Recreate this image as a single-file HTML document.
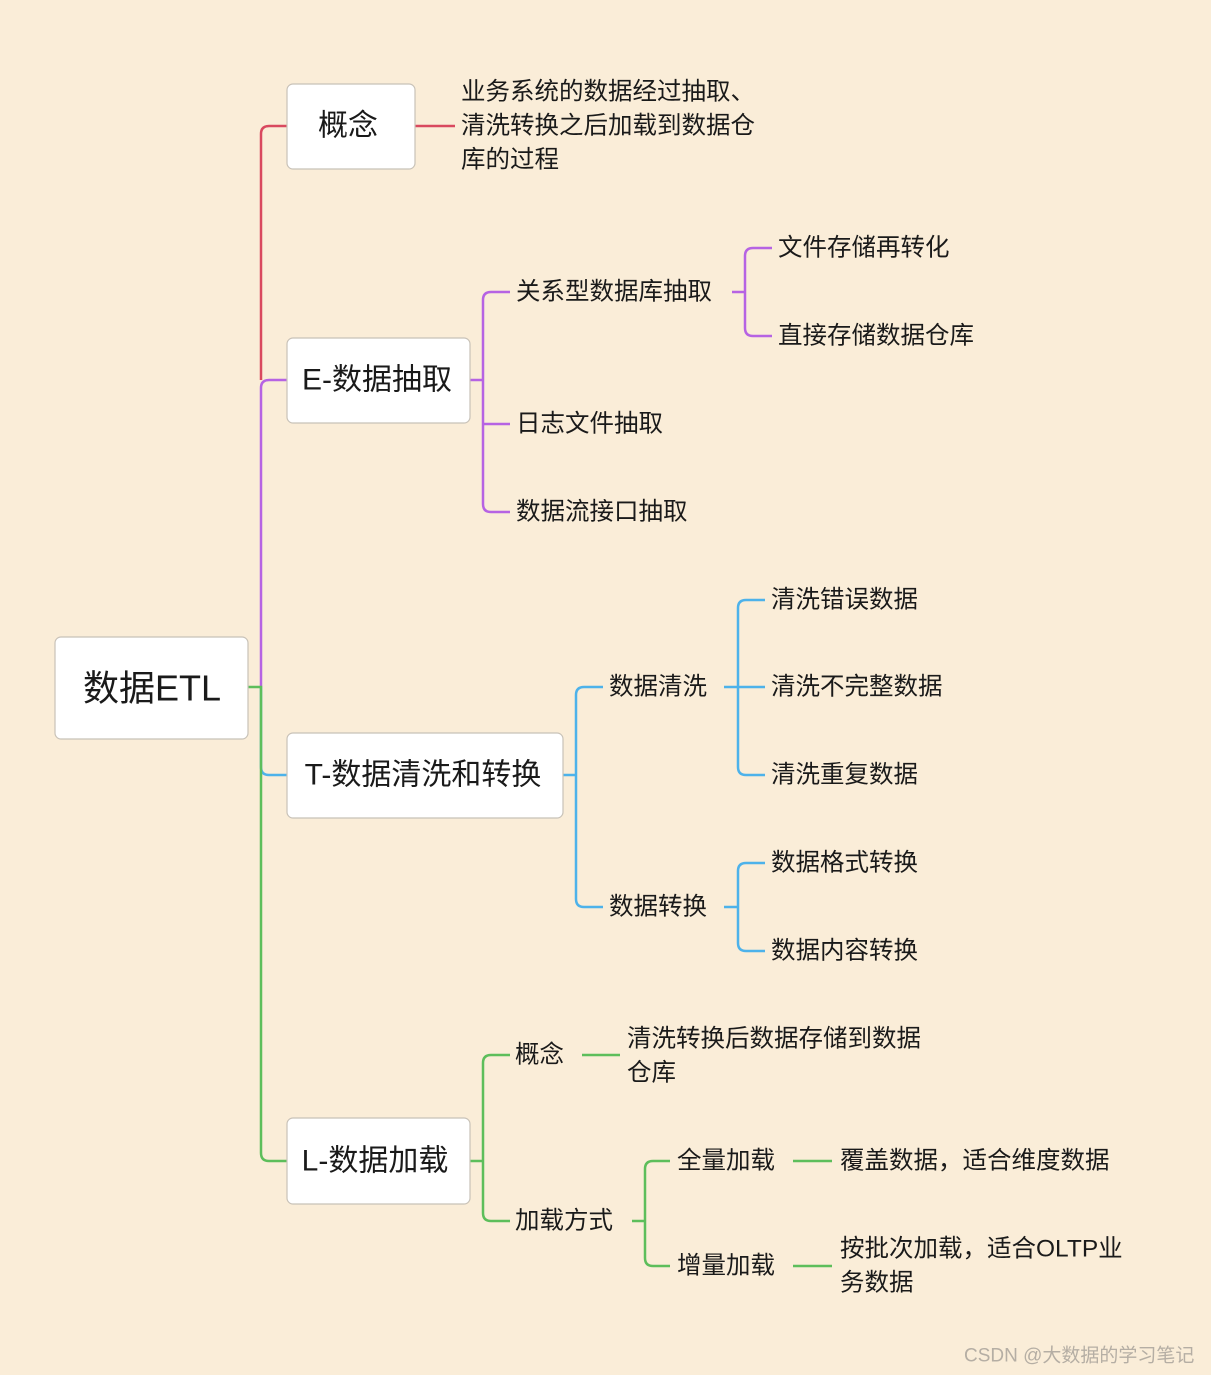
<!DOCTYPE html>
<html><head><meta charset="utf-8"><style>
html,body{margin:0;padding:0;background:#FAEDD8;}
svg{display:block;}
text{font-family:"Liberation Sans","Noto Sans CJK SC",sans-serif;fill:#1a1a1a;dominant-baseline:central;}
.b{fill:#fff;stroke:#c8c2b8;stroke-width:1.2;}
.r{stroke:#D9495F;} .p{stroke:#B663E3;} .u{stroke:#4DB2EA;} .g{stroke:#5DBE5B;}
path{fill:none;stroke-width:2.5;}
.t{font-size:24.5px;}
</style></head><body>
<svg width="1211" height="1375" viewBox="0 0 1211 1375">
<rect width="1211" height="1375" fill="#FAEDD8"/>
<path class="r" d="M287 126 H269 Q261 126 261 134 V380"/>
<path class="p" d="M287 380 H269 Q261 380 261 388 V687"/>
<path class="u" d="M287 775 H269 Q261 775 261 767 V687"/>
<path class="g" d="M248 687 H261 V1153 Q261 1161 269 1161 H287"/>
<path class="r" d="M415 126 H455"/>
<path class="p" d="M470 380 H483 M510 292 H491 Q483 292 483 300 V504 Q483 512 491 512 H510 M483 424 H510"/>
<path class="p" d="M732 292 H745 M772 248 H753 Q745 248 745 256 V328 Q745 336 753 336 H772"/>
<path class="u" d="M563 775 H576 M603 687 H584 Q576 687 576 695 V899 Q576 907 584 907 H603"/>
<path class="u" d="M724 687 H765 M765 600 H746 Q738 600 738 608 V767 Q738 775 746 775 H765"/>
<path class="u" d="M724 907 H738 M765 863 H746 Q738 863 738 871 V943 Q738 951 746 951 H765"/>
<path class="g" d="M470 1161 H483 M510 1055 H491 Q483 1055 483 1063 V1213 Q483 1221 491 1221 H510"/>
<path class="g" d="M582 1055 H620"/>
<path class="g" d="M632 1221 H645 M670 1161 H653 Q645 1161 645 1169 V1258 Q645 1266 653 1266 H670"/>
<path class="g" d="M793 1161 H832 M793 1266 H832"/>
<rect class="b" x="55" y="637" width="193" height="102" rx="6"/>
<text x="152" y="688" font-size="36" text-anchor="middle">数据ETL</text>
<rect class="b" x="287" y="84" width="128" height="85" rx="6"/>
<text x="348" y="126" font-size="30" text-anchor="middle">概念</text>
<rect class="b" x="287" y="338" width="183" height="85" rx="6"/>
<text x="377" y="380" font-size="30" text-anchor="middle">E-数据抽取</text>
<rect class="b" x="287" y="733" width="276" height="85" rx="6"/>
<text x="423" y="775" font-size="30" text-anchor="middle">T-数据清洗和转换</text>
<rect class="b" x="287" y="1118" width="183" height="86" rx="6"/>
<text x="375" y="1161" font-size="30" text-anchor="middle">L-数据加载</text>
<text class="t" x="461" y="92">业务系统的数据经过抽取、</text>
<text class="t" x="461" y="126">清洗转换之后加载到数据仓</text>
<text class="t" x="461" y="160">库的过程</text>
<text class="t" x="516" y="292">关系型数据库抽取</text>
<text class="t" x="778" y="248">文件存储再转化</text>
<text class="t" x="778" y="336">直接存储数据仓库</text>
<text class="t" x="516" y="424">日志文件抽取</text>
<text class="t" x="516" y="512">数据流接口抽取</text>
<text class="t" x="609" y="687">数据清洗</text>
<text class="t" x="771" y="600">清洗错误数据</text>
<text class="t" x="771" y="687">清洗不完整数据</text>
<text class="t" x="771" y="775">清洗重复数据</text>
<text class="t" x="609" y="907">数据转换</text>
<text class="t" x="771" y="863">数据格式转换</text>
<text class="t" x="771" y="951">数据内容转换</text>
<text class="t" x="515" y="1055">概念</text>
<text class="t" x="627" y="1039">清洗转换后数据存储到数据</text>
<text class="t" x="627" y="1073">仓库</text>
<text class="t" x="515" y="1221">加载方式</text>
<text class="t" x="677" y="1161">全量加载</text>
<text class="t" x="677" y="1266">增量加载</text>
<text class="t" x="840" y="1161">覆盖数据，适合维度数据</text>
<text class="t" x="840" y="1249">按批次加载，适合OLTP业</text>
<text class="t" x="840" y="1283">务数据</text>
<text x="964" y="1356" font-size="19" style="fill:#b5aea4">CSDN @大数据的学习笔记</text>
</svg>
</body></html>
